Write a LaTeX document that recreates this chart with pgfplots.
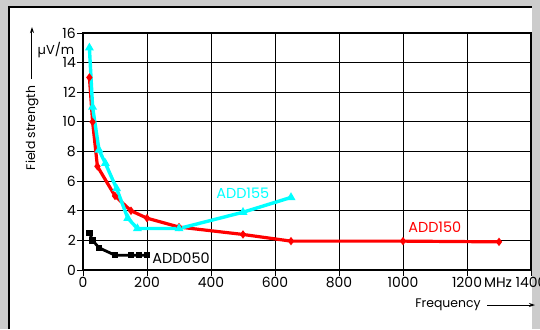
\documentclass[border=0pt]{standalone}
\usepackage{pgfplots}
\pgfplotsset{compat=1.18}
\usetikzlibrary{arrows.meta}
\usepackage{fontspec}
\setmainfont{Poppins}
\definecolor{cyn}{RGB}{0,255,255}
\begin{document}
\begin{tikzpicture}[x=1bp,y=1bp,font=\fontsize{12.5}{13}\selectfont]
\useasboundingbox (-83,-59) rectangle (457,270);
\fill[black!20] (-83,-59) rectangle (457,270);
\fill[white] (-74,-59) rectangle (449,263);
\draw[line width=1.2bp] (-74,-59) -- (-74,263) -- (449,263);
\begin{axis}[at={(0,0)}, anchor=south west, scale only axis,
  width=448bp, height=237bp,
  xmin=0, xmax=1400, ymin=0, ymax=16,
  xtick={0,200,...,1400}, ytick={0,2,...,16},
  xticklabels={0,200,400,600,800,1000,1200,1400},
  grid=major, grid style={black, line width=0.9bp},
  axis line style={line width=1.1bp},
  tick style={black, line width=0.9bp},
  tick align=outside, major tick length=6bp, tick pos=left,
  ticklabel style={font=\fontsize{14}{14}\selectfont},
  xticklabel style={inner sep=1bp},
  yticklabel style={inner sep=1bp},
  /pgf/number format/assume math mode=true,
  clip=false]
\addplot[red, line width=3.2bp, mark=diamond*, mark size=1.6bp] coordinates {
  (20,13) (30,10) (45,7) (100,5) (150,4) (200,3.5) (300,2.9) (500,2.4) (650,1.95) (1000,1.95) (1300,1.9)};
\addplot[cyn, line width=3.4bp, mark=triangle*, mark size=1.8bp] coordinates {
  (20,15) (30,11) (50,8.1) (70,7.2) (105,5.5) (140,3.5) (170,2.8) (300,2.8) (500,3.9) (650,4.9)};
\addplot[black, line width=2.8bp, mark=square*, mark size=1.8bp] coordinates {
  (20,2.5) (30,2) (50,1.5) (100,1) (150,1) (175,1) (200,1)};
\node[anchor=west, inner sep=0pt, black, font=\fontsize{14.5}{15}\selectfont] at (axis cs:216,0.8) {ADD050};
\node[anchor=west, inner sep=0pt, cyn, font=\fontsize{14.5}{15}\selectfont] at (axis cs:416,5.18) {ADD155};
\node[anchor=west, inner sep=0pt, red, font=\fontsize{14.5}{15}\selectfont] at (axis cs:1016,2.86) {ADD150};
\end{axis}
\node[rotate=90] at (-51,142) {Field strength};
\draw[-{Stealth[length=6bp,width=4bp]}, line width=1bp] (-51,191) -- (-51,243);
\node[font=\fontsize{13}{13}\selectfont] at (-27,220) {µV/m};
\node[font=\fontsize{14}{14}\selectfont] at (415,-13) {MHz};
\node at (365,-35) {Frequency};
\draw[-{Stealth[length=6bp,width=4bp]}, line width=1bp] (404,-35) -- (452,-35);
\end{tikzpicture}
\end{document}
